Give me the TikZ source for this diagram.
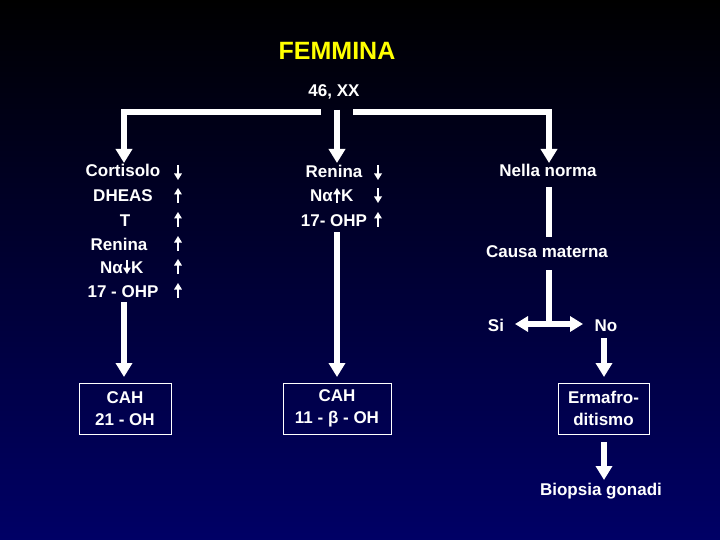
\documentclass[tikz,border=0pt]{standalone}
\usepackage{fontspec}
\setmainfont{Liberation Sans}
\usetikzlibrary{arrows.meta}
\definecolor{navybg}{RGB}{0,0,102}
\definecolor{titleyellow}{RGB}{255,255,0}
\begin{document}
\begin{tikzpicture}[x=1pt,y=-1pt,
  txt/.style={font=\fontsize{17}{20}\selectfont\bfseries, text=white, anchor=base, inner sep=0pt},
  txtE/.style={txt, anchor=base east},
  txtW/.style={txt, anchor=base west},
  titletxt/.style={font=\fontsize{25}{28}\selectfont\bfseries, text=titleyellow, anchor=base, inner sep=0pt},
  boxnode/.style={draw=white, line width=0.9pt, font=\fontsize{17}{22.5}\selectfont\bfseries, text=white, align=center, inner sep=0pt, minimum height=51pt},
  bar/.style={draw=white, line width=6pt},
  bigarr/.style={bar, -{Triangle[width=16pt,length=14pt]}},
  dblarr/.style={bar, {Triangle[width=15pt,length=13pt]}-{Triangle[width=15pt,length=13pt]}},
  smallarr/.style={draw=white, line width=2.2pt, -{Triangle[width=7.5pt,length=6.5pt]}}
]
\useasboundingbox (0,0) rectangle (720,540);
\shade[top color=black, bottom color=navybg] (0,0) rectangle (720,540);

% title
\node[titletxt] (fem) at (337,60) {FEMMINA};
\node[txt] (xx) at (334,97) {46, XX};

% top connectors
\coordinate (tl) at (321,112);
\coordinate (lc) at (124,112);
\coordinate (ltip) at (124,163);
\coordinate (ms) at (337,110);
\coordinate (mtip) at (337,163);
\coordinate (tr) at (353,112);
\coordinate (rc) at (549,112);
\coordinate (rtip) at (549,163);
\draw[bigarr] (tl) -- (lc) -- (ltip);
\draw[bigarr] (ms) -- (mtip);
\draw[bigarr] (tr) -- (rc) -- (rtip);

% left column
\node[txt] (l1) at (123,177) {Cortisolo};
\node[txt] (l2) at (123,202) {DHEAS};
\node[txt] (l3) at (125,226) {T};
\node[txt] (l4) at (119,250) {Renina};
\node[txtE] (l5a) at (123,273) {Nα};
\node[txtW] (l5b) at (131,273) {K};
\node[txt] (l6) at (123,297) {17 - OHP};
\coordinate (l5t) at (127,260);
\coordinate (l5d) at (127,274);
\draw[smallarr] (l5t) -- (l5d);

\coordinate (a1t) at (178,165); \coordinate (a1b) at (178,180);
\coordinate (a2t) at (178,188); \coordinate (a2b) at (178,203);
\coordinate (a3t) at (178,212); \coordinate (a3b) at (178,227);
\coordinate (a4t) at (178,236); \coordinate (a4b) at (178,251);
\coordinate (a5t) at (178,259); \coordinate (a5b) at (178,274);
\coordinate (a6t) at (178,283); \coordinate (a6b) at (178,298);
\draw[smallarr] (a1t) -- (a1b);
\draw[smallarr] (a2b) -- (a2t);
\draw[smallarr] (a3b) -- (a3t);
\draw[smallarr] (a4b) -- (a4t);
\draw[smallarr] (a5b) -- (a5t);
\draw[smallarr] (a6b) -- (a6t);

\coordinate (lls) at (124,302);
\coordinate (llt) at (124,377);
\draw[bigarr] (lls) -- (llt);
\node[boxnode, minimum width=92pt] (cah1) at (125,408.5) {CAH\\21 - OH};

% middle column
\node[txt] (m1) at (334,178) {Renina};
\node[txtE] (m2a) at (333,202) {Nα};
\node[txtW] (m2b) at (341,202) {K};
\node[txt] (m3) at (334,226) {17- OHP};
\coordinate (m2t) at (337,188);
\coordinate (m2d) at (337,203);
\draw[smallarr] (m2d) -- (m2t);

\coordinate (b1t) at (378,165); \coordinate (b1b) at (378,180);
\coordinate (b2t) at (378,188); \coordinate (b2b) at (378,203);
\coordinate (b3t) at (378,212); \coordinate (b3b) at (378,227);
\draw[smallarr] (b1t) -- (b1b);
\draw[smallarr] (b2t) -- (b2b);
\draw[smallarr] (b3b) -- (b3t);

\coordinate (mls) at (337,232);
\coordinate (mlt) at (337,377);
\draw[bigarr] (mls) -- (mlt);
\node[boxnode, minimum width=108pt] (cah2) at (337,408.5) {CAH\\11 - β - OH};

% right column
\node[txt] (r1) at (548,177) {Nella norma};
\coordinate (r1s) at (549,187);
\coordinate (r1e) at (549,237);
\draw[bar] (r1s) -- (r1e);
\node[txt] (r2) at (547,257) {Causa materna};
\coordinate (r2s) at (549,270);
\coordinate (r2e) at (549,324);
\draw[bar] (r2s) -- (r2e);
\coordinate (siT) at (515,324);
\coordinate (noT) at (583,324);
\draw[dblarr] (siT) -- (noT);
\node[txt] (si) at (496,331) {Si};
\node[txt] (no) at (606,331) {No};
\coordinate (nos) at (604,338);
\coordinate (noe) at (604,377);
\draw[bigarr] (nos) -- (noe);
\node[boxnode, minimum width=91pt] (erm) at (603.5,408.5) {Ermafro-\\ditismo};
\coordinate (ers) at (604,442);
\coordinate (ere) at (604,480);
\draw[bigarr] (ers) -- (ere);
\node[txt] (bio) at (601,495) {Biopsia gonadi};
\end{tikzpicture}
\end{document}
